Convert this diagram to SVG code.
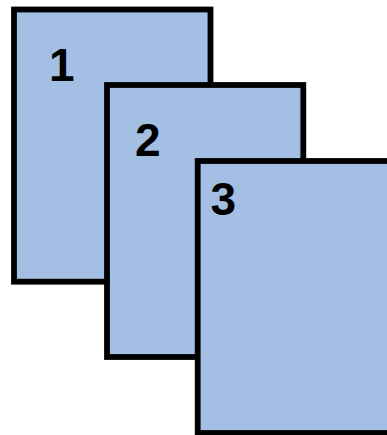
<svg xmlns="http://www.w3.org/2000/svg" width="387" height="435" viewBox="0 0 387 435">
<style>
.card{fill:#A3BFE4;stroke:#000;stroke-width:5.8}
.lbl{font-family:"Liberation Sans",Arial,sans-serif;font-weight:bold;font-size:46px;fill:#000}
</style>
<rect width="387" height="435" fill="#fff"/>
<g id="card1"><rect class="card" x="14" y="9.5" width="196.5" height="272.2"/><text class="lbl" x="49" y="80.7">1</text></g>
<g id="card2"><rect class="card" x="107" y="85" width="196.3" height="272"/><text class="lbl" x="135" y="155.7">2</text></g>
<g id="card3"><rect class="card" x="197.7" y="161" width="200" height="272"/><text class="lbl" x="210.5" y="215">3</text></g>
<g id="connectors"/>
</svg>
